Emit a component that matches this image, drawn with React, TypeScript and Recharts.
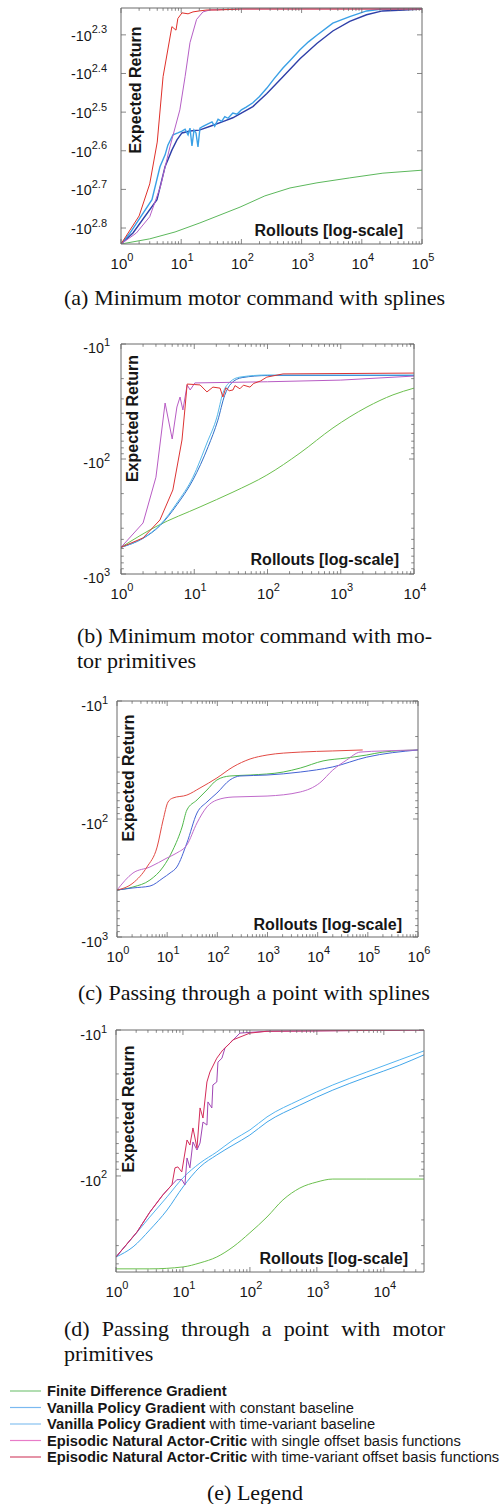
import React from 'react';
import { LineChart, Line, XAxis, YAxis } from 'recharts';

type P = [number, number];

// ---------- Panel (a): Minimum motor command with splines ----------
const A_X_TICKS = [1, 10, 100, 1000, 10000, 100000];
const A_Y_EXPONENTS = [2.3, 2.4, 2.5, 2.6, 2.7, 2.8];
const A_GREEN: P[] = [[1, 694], [3, 673], [7.9, 646], [20.5, 612], [95, 557], [245, 521], [641, 497], [1800, 482], [6300, 468], [22400, 455], [100000, 447]];
const A_VPG_LIGHT: P[] = [[1, 694], [1.41, 650], [3.27, 533], [4.44, 438], [5.4, 408], [6, 385], [7.3, 362], [8.8, 358], [10.3, 354], [11.6, 350], [13, 362], [14, 348], [15.1, 387], [16.3, 352], [17.6, 358], [19, 389], [20.5, 348], [23, 344], [26.8, 340], [32.5, 335], [36, 344], [41, 330], [47, 334], [53, 325], [60, 328], [72, 318], [85, 320], [100, 312], [120, 307], [155, 299], [200, 288], [265, 274], [350, 259], [490, 243], [650, 232], [940, 218], [1300, 208], [1790, 200], [3300, 186], [6300, 179], [12000, 173], [22000, 171], [100000, 171]];
const A_VPG_DARK: P[] = [[1, 694], [1.58, 650], [3.96, 533], [5.39, 438], [7.03, 396], [8.5, 373], [10.3, 358], [14, 354], [20, 352], [32, 343], [53, 333], [72, 327], [155, 306], [265, 283], [490, 256], [940, 230], [1790, 210], [3300, 195], [6300, 184], [12000, 177], [22000, 173], [50000, 172], [100000, 171]];
const A_ENAC_SINGLE: P[] = [[1, 694], [1.8, 650], [3, 590], [4.5, 494], [6.5, 389], [9.5, 312], [11.6, 256], [14, 209], [18, 182], [23, 174], [30, 172], [100, 171], [100000, 171]];
const A_ENAC_TIME: P[] = [[1, 694], [2, 587], [3, 485], [4, 378], [5, 256], [7, 190], [8.2, 194], [8.8, 181], [10.3, 175], [13, 176], [15.7, 174], [20, 173], [27, 172], [40, 172], [100, 171], [1000, 171], [100000, 171]];

// ---------- Panel (b): Minimum motor command with motor primitives ----------
const B_X_TICKS = [1, 10, 100, 1000, 10000];
const B_Y_EXPONENTS = [1, 2, 3];
const B_GREEN: P[] = [[1, 586], [3.1, 383], [12, 261], [33.8, 194], [98, 138], [278, 88.7], [783, 53.7], [2280, 35.3], [5160, 27.7], [10000, 24.2]];
const B_VPG_LIGHT: P[] = [[1, 586], [2, 486], [3.4, 375], [5.8, 241], [9.6, 144], [14.9, 72.6], [20.4, 43.1], [24.6, 26.7], [30.7, 21.4], [42, 19.4], [98, 18.6], [10000, 18.6]];
const B_VPG_DARK: P[] = [[1, 586], [2, 490], [3.4, 380], [5.8, 250], [9.6, 152], [15.5, 78], [21, 46], [26, 28], [32, 22], [45, 19.6], [100, 18.8], [10000, 18.8]];
const B_ENAC_SINGLE: P[] = [[1, 586], [2, 360], [3, 144], [4, 32.6], [5, 67], [5.8, 35.3], [6.4, 28.9], [7, 37.5], [8, 22.7], [8.8, 25.1], [10.2, 21.8], [100, 21.3], [1000, 20.6], [10000, 19]];
const B_ENAC_TIME: P[] = [[1, 586], [2, 486], [3.4, 339], [5.1, 186], [6.8, 68.4], [7.5, 35.3], [8, 22.3], [10, 22.5], [12, 22.7], [14.9, 26.1], [18, 23.7], [22.5, 24.2], [24.6, 28.9], [27, 24], [30, 25.5], [33.8, 25.1], [36, 23], [42, 24.5], [47, 22.8], [57.6, 23.7], [65, 22], [80, 21], [98, 19.4], [163, 18.2], [10000, 17.9]];

// ---------- Panel (c): Passing through a point with splines ----------
const C_X_TICKS = [1, 10, 100, 1000, 10000, 100000, 1000000];
const C_Y_EXPONENTS = [1, 2, 3];
const C_GREEN: P[] = [[1, 400], [2.08, 377], [4.54, 329], [8.3, 255], [13, 183], [19.8, 117], [24.7, 84], [39.3, 69], [62, 56.8], [98, 46.7], [178, 43.2], [450, 42.4], [2050, 40], [4500, 37], [12800, 32.2], [38000, 30.4], [95000, 28.7], [200000, 27.1], [1000000, 26]];
const C_VPG: P[] = [[1, 400], [2.08, 384], [4.54, 370], [8.3, 316], [11.4, 287], [15.6, 255], [24.7, 160], [39.3, 89], [62, 71.8], [98, 60.3], [178, 46.7], [282, 43.2], [980, 42.4], [4500, 40], [20000, 36.2], [95000, 29.9], [1000000, 26]];
const C_ENAC_SINGLE: P[] = [[1, 400], [2.08, 287], [4.54, 255], [9.9, 214], [15.6, 194], [24.7, 166], [39.3, 108], [62, 79], [98, 69], [205, 65.1], [980, 63.9], [4500, 59], [11000, 49.5], [20000, 38.5], [38000, 31.6], [70000, 27.1], [200000, 26.5], [1000000, 26]];
const C_ENAC_TIME: P[] = [[1, 400], [2.08, 349], [3.96, 255], [6.3, 173], [8.3, 102], [10.4, 71.8], [13, 66.4], [24.7, 62.7], [45.1, 54.6], [98, 44.9], [205, 36.2], [450, 31], [980, 28.7], [4500, 27.1], [20000, 26.5], [79000, 26]];

// ---------- Panel (d): Passing through a point with motor primitives ----------
const D_X_TICKS = [1, 10, 100, 1000, 10000];
const D_Y_EXPONENTS = [1, 2];
const D_GREEN: P[] = [[1, 433], [3.2, 433], [10, 420], [18, 394], [32, 359], [56, 306], [100, 245], [180, 191], [311, 146], [557, 121], [1000, 110], [1730, 105], [5570, 105], [39800, 105]];
const D_VPG_CONST: P[] = [[1, 359], [1.8, 262], [3.2, 191], [5.8, 139], [10, 103], [18, 81.5], [32, 68.5], [56, 56.7], [100, 48.4], [180, 39.4], [557, 30.1], [1730, 23.8], [5570, 19.4], [17300, 16], [39800, 13.9]];
const D_VPG_TIME: P[] = [[1, 359], [1.8, 306], [3.2, 234], [5.8, 171], [10, 119], [18, 86.7], [32, 71.8], [56, 61.4], [100, 52.4], [180, 42.7], [557, 32.7], [1730, 25.8], [5570, 21], [17300, 17.4], [39800, 14.8]];
const D_ENAC_SINGLE: P[] = [[1, 359], [2.06, 242], [3.2, 177], [5, 135], [6.85, 115], [8.1, 106], [9.6, 106], [10.7, 115], [11.5, 75.3], [12.7, 88], [14.1, 58.5], [16.2, 66.4], [18, 59.4], [19.9, 42.7], [22.8, 44.8], [23.6, 31.1], [27, 34.2], [28, 23.8], [32, 22.7], [33.3, 16.6], [38.2, 15.6], [42.4, 13.3], [50.4, 12.3], [71, 10.5], [180, 10.2], [39800, 10]];
const D_ENAC_TIME: P[] = [[1, 359], [2.06, 242], [3.2, 177], [5, 135], [6.85, 115], [7.6, 88], [8.4, 86.7], [9.6, 93.9], [11.5, 56.7], [12.7, 61.4], [14.1, 46.9], [16.2, 64.3], [18, 34.2], [19.9, 40.1], [22.8, 22.7], [25.3, 19.4], [32, 15.6], [39.4, 13.7], [50.4, 12.3], [55.5, 11.7], [100, 10.5], [180, 10.2], [39800, 10]];

// ---------- Legend ----------
const LEGEND_BOLD = ['Finite Difference Gradient', 'Vanilla Policy Gradient', 'Vanilla Policy Gradient', 'Episodic Natural Actor-Critic', 'Episodic Natural Actor-Critic'];
const LEGEND_REST = ['', ' with constant baseline', ' with time-variant baseline', ' with single offset basis functions', ' with time-variant offset basis functions'];
const LEGEND_COLORS = ['#7cc77c', '#7ab9f0', '#86c2f0', '#e87cc8', '#d44c6c'];

const FRAME = '#6a6a6a';
const TXT = '#161616';
const SANS = '"Liberation Sans", Arial, Helvetica, sans-serif';
const SERIF = '"Liberation Serif", "Times New Roman", Times, serif';

const toPts = (arr: P[]) => arr.map(([x, y]) => ({ x, y }));

function withMinors(lo: number, hi: number): number[] {
  const out: number[] = [];
  let d = Math.pow(10, Math.floor(Math.log10(lo)));
  while (d <= hi) {
    for (let m = 1; m < 10; m++) {
      const v = Math.round(m * d * 1000) / 1000;
      if (v >= lo * 0.999 && v <= hi * 1.001) out.push(v);
    }
    d *= 10;
  }
  return out;
}

type TickOpts = { label?: boolean; fixed?: number; gap?: number; dyLabel?: number; allMajor?: boolean };

function makeTick(side: 'bottom' | 'top' | 'left' | 'right', opts: TickOpts) {
  return (p: any) => {
    const { x, y, payload, index } = p;
    const v = payload.value as number;
    const lg = Math.log10(v);
    const major = opts.allMajor || Math.abs(lg - Math.round(lg)) < 1e-6;
    const len = major ? 5 : 2.8;
    let line: any = null;
    if (side === 'bottom') line = <line x1={x} x2={x} y1={y} y2={y - len} stroke={FRAME} strokeWidth={0.8} />;
    if (side === 'top') line = <line x1={x} x2={x} y1={y} y2={y + len} stroke={FRAME} strokeWidth={0.8} />;
    if (side === 'left') line = <line x1={x} x2={x + len} y1={y} y2={y} stroke={FRAME} strokeWidth={0.8} />;
    if (side === 'right') line = <line x1={x} x2={x - len} y1={y} y2={y} stroke={FRAME} strokeWidth={0.8} />;
    let label: any = null;
    if (opts.label && major) {
      const exp = opts.fixed ? lg.toFixed(opts.fixed) : String(Math.round(lg));
      if (side === 'bottom') {
        label = (
          <text x={x + 1} y={y + 24.5} textAnchor="middle" fontFamily={SANS} fontSize={15} fill={TXT}>
            10<tspan dy={-7.5} fontSize={11}>{exp}</tspan>
          </text>
        );
      } else if (side === 'left') {
        label = (
          <text x={x - (opts.gap || 10)} y={y + (opts.dyLabel || 7)} textAnchor="end" fontFamily={SANS} fontSize={14.3} fill={TXT}>
            -10<tspan dy={-7.5} fontSize={11}>{exp}</tspan>
          </text>
        );
      }
    }
    return (
      <g key={`${side}-${index}`}>
        {line}
        {label}
      </g>
    );
  };
}

type Series = { data: P[]; color: string; type?: 'linear' | 'monotone'; width?: number };
type PanelCfg = {
  left: number; right: number; top: number; bottom: number;
  xDomain: [number, number]; yDomain: [number, number];
  xMajor: number[]; yExps: number[]; yFixed?: number; yMinors: boolean;
  gap: number; dyLabel: number; series: Series[];
};

const PANELS: PanelCfg[] = [
  {
    left: 121, right: 422, top: 8, bottom: 244,
    xDomain: [1, 100000], yDomain: [170, 694], xMajor: A_X_TICKS, yExps: A_Y_EXPONENTS, yFixed: 1, yMinors: false,
    gap: 14, dyLabel: 6,
    series: [
      { data: A_GREEN, color: '#5cb85c' },
      { data: A_VPG_DARK, color: '#2e3fa8', width: 1.4 },
      { data: A_VPG_LIGHT, color: '#3aa0e6', width: 1.4 },
      { data: A_ENAC_SINGLE, color: '#b65fc6' },
      { data: A_ENAC_TIME, color: '#e0302a' },
    ],
  },
  {
    left: 121, right: 414, top: 344, bottom: 574,
    xDomain: [1, 10000], yDomain: [10, 1000], xMajor: B_X_TICKS, yExps: B_Y_EXPONENTS, yMinors: true,
    gap: 11, dyLabel: 9,
    series: [
      { data: B_GREEN, color: '#6cbf4e', type: 'monotone' },
      { data: B_VPG_DARK, color: '#2f6fc8', type: 'monotone' },
      { data: B_VPG_LIGHT, color: '#55b8ea', type: 'monotone' },
      { data: B_ENAC_SINGLE, color: '#b85cc4' },
      { data: B_ENAC_TIME, color: '#dd3333' },
    ],
  },
  {
    left: 117, right: 418, top: 701, bottom: 937,
    xDomain: [1, 1000000], yDomain: [10, 1000], xMajor: C_X_TICKS, yExps: C_Y_EXPONENTS, yMinors: true,
    gap: 9, dyLabel: 10,
    series: [
      { data: C_GREEN, color: '#4fb84a', type: 'monotone' },
      { data: C_VPG, color: '#4462d4', type: 'monotone' },
      { data: C_ENAC_SINGLE, color: '#c06acb', type: 'monotone' },
      { data: C_ENAC_TIME, color: '#e24a44', type: 'monotone' },
    ],
  },
  {
    left: 116, right: 424, top: 1030, bottom: 1272,
    xDomain: [1, 39800], yDomain: [10, 455], xMajor: D_X_TICKS, yExps: D_Y_EXPONENTS, yMinors: true,
    gap: 9, dyLabel: 10,
    series: [
      { data: D_GREEN, color: '#6cc04e', type: 'monotone' },
      { data: D_VPG_TIME, color: '#42a6ea', type: 'monotone' },
      { data: D_VPG_CONST, color: '#54b4f0', type: 'monotone' },
      { data: D_ENAC_SINGLE, color: '#a046b4' },
      { data: D_ENAC_TIME, color: '#d42c5a' },
    ],
  },
];

const TOP_PAD = 20;

function Panel({ cfg }: { cfg: PanelCfg }) {
  const chartTop = cfg.top - TOP_PAD;
  const height = cfg.bottom - chartTop + 40;
  const xTicks = withMinors(cfg.xDomain[0], cfg.xDomain[1]);
  const yMajor = cfg.yExps.map((e) => Math.pow(10, e));
  const yTicks = cfg.yMinors ? withMinors(cfg.yDomain[0], cfg.yDomain[1]) : yMajor;
  const allMajorY = !cfg.yMinors;
  const common = { type: 'number' as const, scale: 'log' as const, allowDataOverflow: true, interval: 0 as const, tickSize: 0, tickMargin: 0, tickLine: false };
  return (
    <div style={{ position: 'absolute', left: 0, top: chartTop, width: 504, height }}>
      <LineChart width={504} height={height} margin={{ top: TOP_PAD, right: 504 - cfg.right, bottom: 0, left: cfg.left - 60 }}>
        <XAxis xAxisId="b" dataKey="x" {...common} domain={cfg.xDomain} ticks={xTicks} height={40}
          axisLine={{ stroke: FRAME, strokeWidth: 1 }} tick={makeTick('bottom', { label: true })} />
        <XAxis xAxisId="t" dataKey="x" orientation="top" mirror {...common} domain={cfg.xDomain} ticks={xTicks} height={2}
          axisLine={{ stroke: FRAME, strokeWidth: 1 }} tick={makeTick('top', {})} />
        <YAxis yAxisId="l" dataKey="y" {...common} reversed domain={cfg.yDomain} ticks={yTicks} width={60}
          axisLine={{ stroke: FRAME, strokeWidth: 1 }}
          tick={makeTick('left', { label: true, fixed: cfg.yFixed, gap: cfg.gap, dyLabel: cfg.dyLabel, allMajor: allMajorY })} />
        <YAxis yAxisId="r" dataKey="y" orientation="right" mirror {...common} reversed domain={cfg.yDomain} ticks={yTicks} width={60}
          axisLine={{ stroke: FRAME, strokeWidth: 1 }} tick={makeTick('right', { allMajor: allMajorY })} />
        <Line xAxisId="t" yAxisId="r" data={toPts(cfg.series[0].data)} dataKey="y" stroke="none" dot={false} activeDot={false} isAnimationActive={false} />
        {cfg.series.map((s, i) => (
          <Line key={i} xAxisId="b" yAxisId="l" data={toPts(s.data)} dataKey="y" type={s.type || 'linear'}
            stroke={s.color} strokeWidth={s.width || 1} dot={false} activeDot={false} isAnimationActive={false} />
        ))}
      </LineChart>
    </div>
  );
}

const YLABELS: [number, number][] = [[135, 90], [132, 418.5], [128, 778], [128, 1109]];
const XLABELS: [number, number][] = [[403, 230], [399, 559], [402, 924], [408, 1258]];

function Caption({ left, width, cy, text, justify }: { left: number; width: number; cy: number; text: string; justify?: boolean }) {
  const base: React.CSSProperties = {
    position: 'absolute', left, top: cy - 12.5, width, height: 25, lineHeight: '25px',
    fontFamily: SERIF, fontSize: 22, color: '#111', whiteSpace: 'nowrap',
  };
  if (!justify) return <div style={base}>{text}</div>;
  const words = text.split(' ');
  return (
    <div style={{ ...base, display: 'flex', justifyContent: 'space-between' }}>
      {words.map((w, i) => <span key={i}>{w}</span>)}
    </div>
  );
}

export default function App() {
  return (
    <div style={{ position: 'absolute', left: 0, top: 0, width: 504, height: 1504, background: '#fff', overflow: 'hidden' }}>
      {PANELS.map((p, i) => <Panel key={i} cfg={p} />)}
      <svg width={504} height={1504} style={{ position: 'absolute', left: 0, top: 0, pointerEvents: 'none' }}>
        {YLABELS.map(([cx, cy], i) => (
          <text key={`yl${i}`} transform={`translate(${cx},${cy}) rotate(-90)`} textAnchor="middle" dominantBaseline="central"
            fontFamily={SANS} fontWeight="bold" fontSize={16} fill={TXT}>Expected Return</text>
        ))}
        {XLABELS.map(([rx, cy], i) => (
          <text key={`xl${i}`} x={rx} y={cy + 6} textAnchor="end" fontFamily={SANS} fontWeight="bold" fontSize={16} fill={TXT}>Rollouts [log-scale]</text>
        ))}
        {LEGEND_BOLD.map((b, i) => {
          const cy = 1391 + i * 16.5;
          return (
            <g key={`lg${i}`}>
              <line x1={10} x2={41} y1={cy} y2={cy} stroke={LEGEND_COLORS[i]} strokeWidth={1.2} />
              <text x={47} y={cy + 5} fontFamily={SANS} fontSize={14.7} fill={TXT}>
                <tspan fontWeight="bold">{b}</tspan>
                <tspan>{LEGEND_REST[i]}</tspan>
              </text>
            </g>
          );
        })}
      </svg>
      <Caption left={64} width={381} cy={297} text="(a) Minimum motor command with splines" justify />
      <Caption left={77} width={355} cy={635} text="(b) Minimum motor command with mo-" justify />
      <Caption left={77} width={355} cy={660} text="tor primitives" />
      <Caption left={78} width={352} cy={992} text="(c) Passing through a point with splines" justify />
      <Caption left={64} width={381} cy={1328} text="(d) Passing through a point with motor" justify />
      <Caption left={64} width={381} cy={1353} text="primitives" />
      <Caption left={207} width={100} cy={1492} text="(e) Legend" />
    </div>
  );
}
